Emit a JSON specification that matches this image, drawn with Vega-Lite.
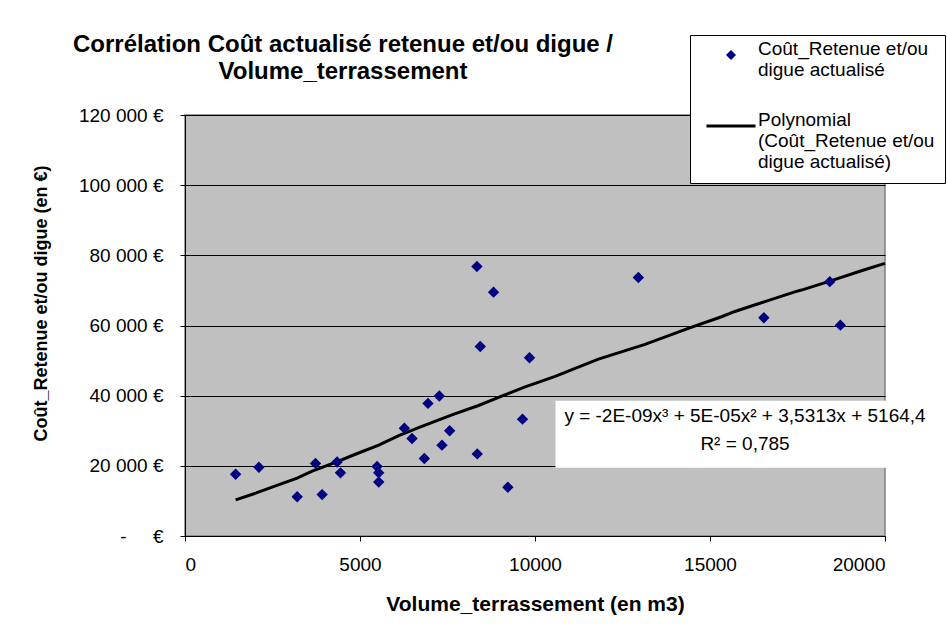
{
  "$schema": "https://vega.github.io/schema/vega-lite/v6.json",
  "width": 700,
  "height": 421,
  "autosize": {"type": "none"},
  "padding": {"left": 185, "top": 115, "right": 62, "bottom": 98},
  "background": "white",
  "title": {
    "text": ["Corrélation Coût actualisé retenue et/ou digue /", "Volume_terrassement"],
    "anchor": "start",
    "frame": "group",
    "align": "center",
    "baseline": "alphabetic",
    "dx": 158,
    "dy": 68,
    "offset": 0,
    "font": "Liberation Sans",
    "fontSize": 24,
    "fontWeight": "bold",
    "lineHeight": 27,
    "color": "#000000"
  },
  "config": {
    "font": "Liberation Sans",
    "view": {"fill": "#C0C0C0", "stroke": "#808080", "strokeWidth": 1.5},
    "axis": {
      "labelFont": "Liberation Sans",
      "labelFontSize": 19,
      "labelColor": "#000000",
      "titleFont": "Liberation Sans",
      "titleFontWeight": "bold",
      "titleColor": "#000000",
      "domainColor": "#000000",
      "tickColor": "#000000",
      "tickSize": 5,
      "gridColor": "#000000",
      "gridOpacity": 1,
      "gridWidth": 1
    },
    "legend": {
      "orient": "none",
      "legendX": 505,
      "legendY": -80,
      "fillColor": "#FFFFFF",
      "strokeColor": "#000000",
      "padding": 10.5,
      "labelFont": "Liberation Sans",
      "labelFontSize": 19,
      "labelColor": "#000000",
      "labelBaseline": "alphabetic",
      "labelOffset": 17.5,
      "symbolOffset": 21,
      "rowPadding": 30,
      "labelLimit": 400,
      "symbolSize": 100,
      "symbolStrokeWidth": 3,
      "symbolOpacity": 1
    }
  },
  "datasets": {
    "points": [
      {"volume": 1446, "cout": 17600, "serie": "pts"},
      {"volume": 2111, "cout": 19600, "serie": "pts"},
      {"volume": 3205, "cout": 11200, "serie": "pts"},
      {"volume": 3728, "cout": 20700, "serie": "pts"},
      {"volume": 3918, "cout": 11800, "serie": "pts"},
      {"volume": 4346, "cout": 21100, "serie": "pts"},
      {"volume": 4442, "cout": 18000, "serie": "pts"},
      {"volume": 5487, "cout": 19800, "serie": "pts"},
      {"volume": 5535, "cout": 18000, "serie": "pts"},
      {"volume": 5535, "cout": 15400, "serie": "pts"},
      {"volume": 6268, "cout": 30700, "serie": "pts"},
      {"volume": 6486, "cout": 27800, "serie": "pts"},
      {"volume": 6838, "cout": 22100, "serie": "pts"},
      {"volume": 6942, "cout": 37800, "serie": "pts"},
      {"volume": 7266, "cout": 39900, "serie": "pts"},
      {"volume": 7342, "cout": 25900, "serie": "pts"},
      {"volume": 7561, "cout": 30000, "serie": "pts"},
      {"volume": 8340, "cout": 76800, "serie": "pts"},
      {"volume": 8350, "cout": 23400, "serie": "pts"},
      {"volume": 8436, "cout": 54000, "serie": "pts"},
      {"volume": 8816, "cout": 69500, "serie": "pts"},
      {"volume": 9225, "cout": 13900, "serie": "pts"},
      {"volume": 9643, "cout": 33300, "serie": "pts"},
      {"volume": 9843, "cout": 50800, "serie": "pts"},
      {"volume": 12953, "cout": 73700, "serie": "pts"},
      {"volume": 16539, "cout": 62200, "serie": "pts"},
      {"volume": 18422, "cout": 72500, "serie": "pts"},
      {"volume": 18725, "cout": 60100, "serie": "pts"}
    ],
    "trend": [
      {"volume": 1446, "cout": 10300},
      {"volume": 2017, "cout": 12200},
      {"volume": 2587, "cout": 14300},
      {"volume": 3205, "cout": 16500},
      {"volume": 3633, "cout": 18500},
      {"volume": 4299, "cout": 21000},
      {"volume": 4869, "cout": 23300},
      {"volume": 5535, "cout": 25900},
      {"volume": 6106, "cout": 28600},
      {"volume": 6676, "cout": 30900},
      {"volume": 7627, "cout": 34500},
      {"volume": 8388, "cout": 37200},
      {"volume": 8959, "cout": 39500},
      {"volume": 9720, "cout": 42500},
      {"volume": 10576, "cout": 45500},
      {"volume": 11147, "cout": 47800},
      {"volume": 11812, "cout": 50400},
      {"volume": 13143, "cout": 54600},
      {"volume": 14379, "cout": 59200},
      {"volume": 15330, "cout": 62500},
      {"volume": 15710, "cout": 64000},
      {"volume": 16567, "cout": 66800},
      {"volume": 17423, "cout": 69600},
      {"volume": 17614, "cout": 70100},
      {"volume": 18470, "cout": 72800},
      {"volume": 19326, "cout": 75600},
      {"volume": 20000, "cout": 77700}
    ],
    "eqbox": [
      {"x1": 10585, "x2": 21370, "y1": 19470, "y2": 38570}
    ],
    "eqtext": [
      {"volume": 16000, "cout": 34210, "texte": "y = -2E-09x³ + 5E-05x² + 3,5313x + 5164,4"},
      {"volume": 16000, "cout": 26230, "texte": "R² = 0,785"}
    ]
  },
  "layer": [
    {
      "data": {"name": "eqbox"},
      "mark": {"type": "rect", "fill": "#FFFFFF", "stroke": null},
      "encoding": {
        "x": {"field": "x1", "type": "quantitative", "scale": {"domain": [0, 20000]}},
        "x2": {"field": "x2"},
        "y": {"field": "y1", "type": "quantitative", "scale": {"domain": [0, 120000]}},
        "y2": {"field": "y2"}
      }
    },
    {
      "data": {"name": "trend"},
      "mark": {"type": "line", "strokeWidth": 3, "interpolate": "linear", "color": "#000000"},
      "encoding": {
        "x": {"field": "volume", "type": "quantitative"},
        "y": {"field": "cout", "type": "quantitative"}
      }
    },
    {
      "data": {"name": "points"},
      "mark": {"type": "point", "filled": true, "size": 130, "opacity": 1},
      "encoding": {
        "x": {
          "field": "volume",
          "type": "quantitative",
          "scale": {"domain": [0, 20000], "nice": false, "zero": true},
          "axis": {
            "values": [0, 5000, 10000, 15000, 20000],
            "format": "d",
            "grid": false,
            "labelPadding": 14,
            "title": "Volume_terrassement (en m3)",
            "titleFontSize": 21,
            "titleX": 350,
            "titleY": 68,
            "titleAlign": "center",
            "titleBaseline": "middle"
          }
        },
        "y": {
          "field": "cout",
          "type": "quantitative",
          "scale": {"domain": [0, 120000], "nice": false},
          "axis": {
            "values": [0, 20000, 40000, 60000, 80000, 100000, 120000],
            "labelExpr": "datum.value == 0 ? '-\u00a0\u00a0\u00a0\u00a0\u00a0€' : replace(format(datum.value, ','), ',', '\u00a0') + '\u00a0€'",
            "labelPadding": 17,
            "grid": true,
            "title": "Coût_Retenue et/ou digue (en €)",
            "titleFontSize": 18,
            "titleX": -144,
            "titleY": 188,
            "titleAngle": -90,
            "titleAlign": "center",
            "titleBaseline": "middle"
          }
        },
        "shape": {
          "field": "serie",
          "type": "nominal",
          "scale": {"domain": ["pts", "poly"], "range": ["diamond", "M-4.9,0L4.9,0"]},
          "legend": {
            "title": null,
            "labelExpr": "datum.value == 'pts' ? ['Coût_Retenue et/ou', 'digue actualisé'] : ['Polynomial', '(Coût_Retenue et/ou', 'digue actualisé)']"
          }
        },
        "fill": {
          "field": "serie",
          "type": "nominal",
          "scale": {"domain": ["pts", "poly"], "range": ["#000080", "transparent"]},
          "legend": {
            "title": null,
            "labelExpr": "datum.value == 'pts' ? ['Coût_Retenue et/ou', 'digue actualisé'] : ['Polynomial', '(Coût_Retenue et/ou', 'digue actualisé)']"
          }
        },
        "stroke": {
          "field": "serie",
          "type": "nominal",
          "scale": {"domain": ["pts", "poly"], "range": ["transparent", "#000000"]},
          "legend": {
            "title": null,
            "labelExpr": "datum.value == 'pts' ? ['Coût_Retenue et/ou', 'digue actualisé'] : ['Polynomial', '(Coût_Retenue et/ou', 'digue actualisé)']"
          }
        }
      }
    },
    {
      "data": {"name": "eqtext"},
      "mark": {"type": "text", "font": "Liberation Sans", "fontSize": 19, "align": "center", "baseline": "middle", "color": "#000000"},
      "encoding": {
        "x": {"field": "volume", "type": "quantitative"},
        "y": {"field": "cout", "type": "quantitative"},
        "text": {"field": "texte"}
      }
    }
  ]
}
